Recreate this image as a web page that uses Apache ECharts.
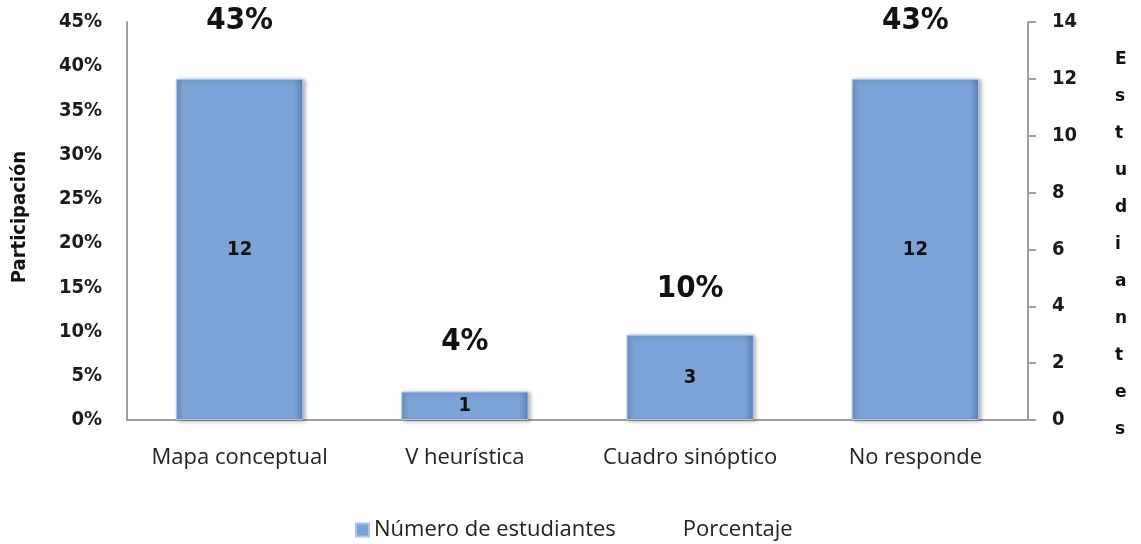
<!DOCTYPE html>
<html>
<head>
<meta charset="utf-8">
<script src="https://cdn.jsdelivr.net/npm/echarts@6/dist/echarts.min.js"></script>
<style>
  html, body { margin: 0; padding: 0; background: #fff; }
  #chart { width: 1141px; height: 544px; }
</style>
</head>
<body>
<div id="chart"></div>
<script>
var chart = echarts.init(document.getElementById('chart'));

var categorias = ['Mapa conceptual', 'V heurística', 'Cuadro sinóptico', 'No responde'];
var estudiantes = [12, 1, 3, 12];
var porcentaje = [43, 4, 10, 43];
var pctTicks = [0, 45, 5];   // min, max, step
var estTicks = [0, 14, 2];

var boldTick = { fontFamily: 'DejaVu Sans Condensed', fontWeight: 'bold', fontSize: 20, color: '#1a1a1a' };

// right axis title is written one letter per line
var nombreDerecho = '{gap| }\n' + 'Estudiantes'.split('').join('\n');

var option = {
  animation: false,
  grid: { left: 127, right: 113, top: 22, bottom: 124, outerBoundsMode: 'none' },
  legend: {
    top: 514,
    left: 350,
    itemWidth: 13,
    itemHeight: 13,
    itemGap: 49,
    textStyle: { fontFamily: 'Open Sans', fontSize: 22, color: '#222' },
    data: [
      { name: 'Número de estudiantes', icon: 'rect' },
      { name: 'Porcentaje', icon: 'none' }
    ]
  },
  xAxis: {
    type: 'category',
    data: categorias,
    axisLine: { lineStyle: { color: '#a0a0a0', width: 2 } },
    axisTick: { show: false },
    axisLabel: { interval: 0, hideOverlap: false, fontFamily: 'Open Sans', fontSize: 22, color: '#222', margin: 27 }
  },
  yAxis: [
    {
      type: 'value',
      min: pctTicks[0], max: pctTicks[1], interval: pctTicks[2],
      name: 'Participación',
      nameLocation: 'middle',
      nameGap: 97,
      nameRotate: 90,
      nameTextStyle: { fontFamily: 'DejaVu Sans Condensed', fontWeight: 'bold', fontSize: 20, color: '#111', padding: [0, 0, 0, 8] },
      axisLine: { show: true, lineStyle: { color: '#a0a0a0', width: 2 } },
      axisTick: { show: false },
      splitLine: { show: false },
      axisLabel: Object.assign({ formatter: '{value}%', margin: 25 }, boldTick)
    },
    {
      type: 'value',
      min: estTicks[0], max: estTicks[1], interval: estTicks[2],
      name: nombreDerecho,
      nameLocation: 'middle',
      nameGap: 87,
      nameRotate: 0,
      nameTextStyle: {
        fontFamily: 'DejaVu Sans', fontWeight: 'bold', fontSize: 17, color: '#111', lineHeight: 37,
        rich: { gap: { lineHeight: 48, fontSize: 10 } }
      },
      axisLine: { show: true, lineStyle: { color: '#a0a0a0', width: 2 } },
      axisTick: { show: true, length: 8, lineStyle: { color: '#a0a0a0', width: 2 } },
      splitLine: { show: false },
      axisLabel: Object.assign({ margin: 24 }, boldTick)
    }
  ],
  series: [
    {
      name: 'Número de estudiantes',
      type: 'bar',
      yAxisIndex: 1,
      barWidth: '56.5%',
      data: estudiantes,
      itemStyle: {
        color: new echarts.graphic.LinearGradient(0, 0, 1, 0, [
          { offset: 0, color: '#6d95c8' },
          { offset: 0.05, color: '#7ba3d5' },
          { offset: 0.93, color: '#7ba3d5' },
          { offset: 1, color: '#5a80b2' }
        ]),
        borderColor: '#a9c7ec',
        borderWidth: 1,
        shadowColor: 'rgba(0,0,0,0.3)',
        shadowBlur: 4,
        shadowOffsetX: 2,
        shadowOffsetY: 1
      },
      label: {
        show: true,
        position: 'inside',
        fontFamily: 'DejaVu Sans Condensed',
        fontWeight: 'bold',
        fontSize: 20,
        color: '#111'
      }
    },
    {
      name: 'Porcentaje',
      type: 'line',
      yAxisIndex: 0,
      symbol: 'circle',
      symbolSize: 2,
      showSymbol: true,
      itemStyle: { color: 'rgba(0,0,0,0)', borderWidth: 0 },
      lineStyle: { width: 0, opacity: 0 },
      data: porcentaje.map(function (v) {
        return {
          value: v,
          label: { distance: v > 40 ? 2 : 26 }
        };
      }),
      label: {
        show: true,
        position: 'top',
        fontFamily: 'DejaVu Sans Condensed',
        fontWeight: 'bold',
        fontSize: 31,
        color: '#111',
        formatter: '{c}%'
      },
      z: 5
    }
  ]
};
chart.setOption(option);
</script>
</body>
</html>
